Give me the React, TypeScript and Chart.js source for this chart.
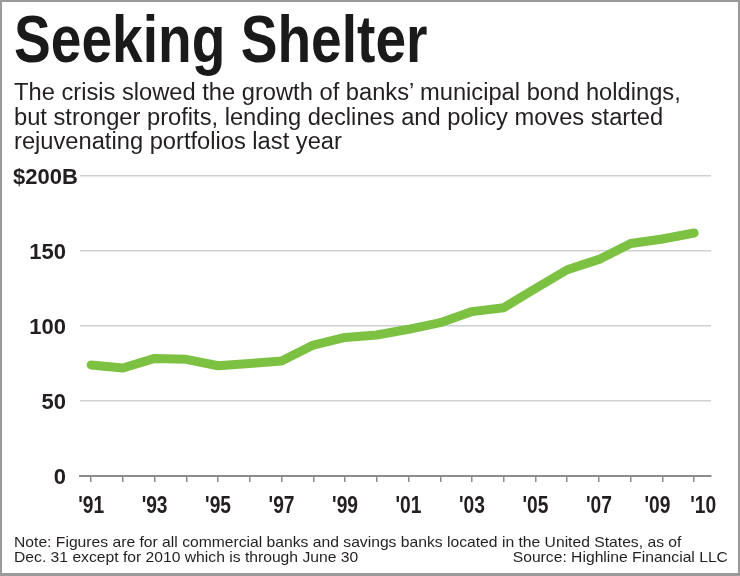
import { useEffect, useRef } from "react";
import { Chart, registerables } from "chart.js";

Chart.register(...registerables);

// Bank municipal bond holdings, $ billions, year-end (2010 through June 30)
const years = [1991, 1992, 1993, 1994, 1995, 1996, 1997, 1998, 1999, 2000, 2001, 2002, 2003, 2004, 2005, 2006, 2007, 2008, 2009, 2010];
const holdings = [74, 72, 78.4, 77.8, 73.5, 75, 76.7, 87.3, 92.4, 94, 97.8, 102.2, 109.6, 112.2, 125, 137.5, 144.4, 155, 158, 162];
const xTickLabels = ["'91", "", "'93", "", "'95", "", "'97", "", "'99", "", "'01", "", "'03", "", "'05", "", "'07", "", "'09", "'10"];
const yTickValues = [0, 50, 100, 150, 200];
const yTickLabels = ["0", "50", "100", "150", "$200B"];

const TEXT = "#231f20";
const LINE_GREEN = "#7dc142";
const SANS = "'Liberation Sans', Arial, sans-serif";

// Axis labels are drawn in a condensed face: the canvas is squeezed horizontally
// around each label's anchor point.
const X_LABEL_SQUEEZE = 0.8;

const axisLabelPlugin = {
  id: "axisLabels",
  afterDraw(chart: any) {
    const { ctx } = chart;
    const ys = chart.scales.y;
    const xs = chart.scales.x;
    ctx.save();
    ctx.fillStyle = TEXT;

    // value axis
    ctx.font = `bold 22px ${SANS}`;
    ctx.textBaseline = "alphabetic";
    yTickValues.forEach((v, i) => {
      const py = ys.getPixelForValue(v);
      const label = yTickLabels[i];
      if (i === yTickValues.length - 1) {
        ctx.textAlign = "left";
        ctx.fillText(label, 13, py + 7.5);
      } else {
        ctx.textAlign = "right";
        ctx.fillText(label, 66, py + 7.5);
      }
    });

    // year axis; the last two labels sit close together, so nudge them apart
    ctx.font = `bold 24px ${SANS}`;
    ctx.textAlign = "center";
    const baseY = xs.top + 37;
    const last = years.length - 1;
    years.forEach((yr, i) => {
      const label = xTickLabels[i];
      if (!label) return;
      let px = xs.getPixelForValue(yr);
      if (i === last) px += 9;
      if (i === last - 1) px -= 5;
      ctx.save();
      ctx.translate(px, baseY);
      ctx.scale(X_LABEL_SQUEEZE, 1);
      ctx.fillText(label, 0, 0);
      ctx.restore();
    });
    ctx.restore();
  },
};

export default function App() {
  const canvasRef = useRef<HTMLCanvasElement | null>(null);

  useEffect(() => {
    if (!canvasRef.current) return;
    const chart = new Chart(canvasRef.current, {
      type: "line",
      data: {
        datasets: [
          {
            data: years.map((y, i) => ({ x: y, y: holdings[i] })),
            borderColor: LINE_GREEN,
            borderWidth: 9,
            borderCapStyle: "round",
            borderJoinStyle: "round",
            pointRadius: 0,
            tension: 0,
            fill: false,
          },
        ],
      },
      options: {
        animation: false,
        responsive: false,
        events: [],
        layout: { padding: { left: 80, right: 29, top: 176, bottom: 49.2 } },
        plugins: { legend: { display: false }, tooltip: { enabled: false }, title: { display: false } },
        scales: {
          x: {
            type: "linear",
            min: 1990.65,
            max: 2010.53,
            border: { display: true, color: "#8c8c8c", width: 2 },
            grid: { drawOnChartArea: false, drawTicks: true, tickLength: 6, color: "#8c8c8c", lineWidth: 1.5 },
            ticks: {
              stepSize: 1,
              autoSkip: false,
              includeBounds: false,
              maxRotation: 0,
              padding: 8,
              color: "rgba(0,0,0,0)",
              font: { family: SANS, size: 24, weight: "bold" },
              callback: (v: any) => {
                const i = years.indexOf(Math.round(Number(v)));
                return i >= 0 ? xTickLabels[i] : "";
              },
            },
          },
          y: {
            min: 0,
            max: 200,
            border: { display: false },
            ticks: { display: false, stepSize: 50 },
            grid: {
              drawTicks: false,
              lineWidth: 1.5,
              color: (c: any) => (c.tick && c.tick.value === 0 ? "rgba(0,0,0,0)" : "#d0d0d0"),
            },
          },
        },
      },
      plugins: [axisLabelPlugin],
    });
    return () => chart.destroy();
  }, []);

  const base: any = {
    position: "absolute",
    whiteSpace: "nowrap",
    color: TEXT,
    margin: 0,
  };
  const sub: any = {
    ...base,
    left: 14,
    fontFamily: SANS,
    fontSize: 23,
    lineHeight: "24.7px",
    transform: "scaleX(1.03)",
    transformOrigin: "0 0",
  };
  const note: any = {
    ...base,
    fontFamily: SANS,
    fontSize: 15,
    lineHeight: "15px",
    transform: "scaleX(1.045)",
  };

  return (
    <div style={{ position: "absolute", left: 0, top: 0, width: 740, height: 576, background: "#fff", overflow: "hidden" }}>
      <canvas ref={canvasRef} width={740} height={576} style={{ position: "absolute", left: 0, top: 0 }} />
      <div
        style={{
          ...base,
          left: 14,
          top: 6,
          fontFamily: SANS,
          fontWeight: "bold",
          fontSize: 66,
          lineHeight: "66px",
          color: "#1a1a1a",
          transform: "scaleX(0.835)",
          transformOrigin: "0 0",
        }}
      >
        Seeking Shelter
      </div>
      <div style={{ ...sub, top: 80 }}>The crisis slowed the growth of banks’ municipal bond holdings,</div>
      <div style={{ ...sub, top: 104.7 }}>but stronger profits, lending declines and policy moves started</div>
      <div style={{ ...sub, top: 129.4 }}>rejuvenating portfolios last year</div>
      <div style={{ ...note, left: 14, top: 534, transformOrigin: "0 0" }}>
        Note: Figures are for all commercial banks and savings banks located in the United States, as of
      </div>
      <div style={{ ...note, left: 14, top: 549, transformOrigin: "0 0" }}>Dec. 31 except for 2010 which is through June 30</div>
      <div style={{ ...note, right: 12, top: 549, transformOrigin: "100% 0" }}>Source: Highline Financial LLC</div>
      <div
        style={{
          position: "absolute",
          left: 0,
          top: 0,
          width: 740,
          height: 576,
          boxSizing: "border-box",
          border: "2px solid #9a9a9a",
          borderBottomWidth: 3,
          pointerEvents: "none",
        }}
      />
    </div>
  );
}
